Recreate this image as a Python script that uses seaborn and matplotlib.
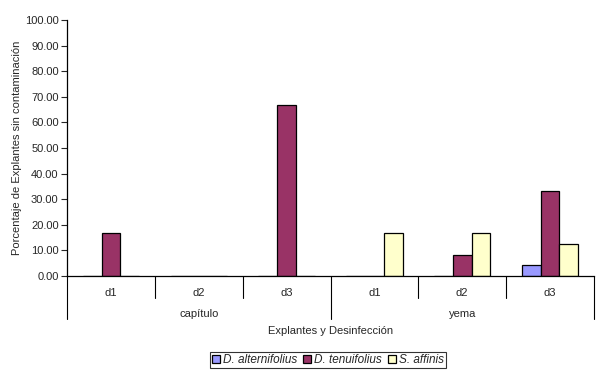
import seaborn as sns
import matplotlib.pyplot as plt
import matplotlib
import pandas as pd
import matplotlib.transforms as mtransforms

matplotlib.use('Agg')

explantes = ["capítulo", "yema"]
desinfecciones = ["d1", "d2", "d3"]
especies = ["D. alternifolius", "D. tenuifolius", "S. affinis"]

# valores por especie, en orden capítulo d1..d3, yema d1..d3
alternifolius = [0, 0, 0, 0, 0, 4.17]
tenuifolius = [16.67, 0, 66.67, 0, 8.33, 33.33]
affinis = [0, 0, 0, 16.67, 16.67, 12.5]

colores = ["#9999FF", "#993366", "#FFFFCC"]
FS = 8


def build_df() -> pd.DataFrame:
    rows = []
    series = [alternifolius, tenuifolius, affinis]
    for esp, vals in zip(especies, series):
        i = 0
        for exp in explantes:
            for d in desinfecciones:
                rows.append({"key": f"{exp} {d}", "explante": exp, "desinf": d,
                             "especie": esp, "valor": vals[i]})
                i += 1
    return pd.DataFrame(rows)


df = build_df()
keys = [f"{e} {d}" for e in explantes for d in desinfecciones]

sns.set_style("white")
plt.rcParams['font.family'] = ['Liberation Sans', 'DejaVu Sans']

fig = plt.figure(figsize=(6.05, 3.76), dpi=100)
ax = fig.add_axes([67 / 605, 1 - 276 / 376, 527 / 605, 256 / 376])

sns.barplot(data=df, x="key", y="valor", hue="especie", order=keys,
            hue_order=especies, palette=colores, edgecolor="black",
            linewidth=0.9, width=0.64, saturation=1, ax=ax, legend=True)

ax.set_ylim(0, 100)
ax.set_xlim(-0.5, len(keys) - 0.5)
ax.set_yticks(range(0, 101, 10))
ax.set_yticklabels([f"{v:.2f}" for v in range(0, 101, 10)], fontsize=FS)
ax.tick_params(axis="y", length=4, width=0.8, direction="out", left=True, pad=2)
ax.set_xticks([])
ax.set_xlabel("")
ax.set_ylabel("Porcentaje de Explantes sin contaminación", fontsize=FS, labelpad=2)

for s in ["top", "right"]:
    ax.spines[s].set_visible(False)
for s in ["left", "bottom"]:
    ax.spines[s].set_color("black")
    ax.spines[s].set_linewidth(0.9)

trans = mtransforms.blended_transform_factory(ax.transData, ax.transAxes)

# etiquetas de desinfección y separadores cortos
for i, k in enumerate(keys):
    d = k.split(" ")[1]
    ax.text(i, -0.068, d, transform=trans, ha="center", va="center", fontsize=FS)
for i in range(1, len(keys)):
    if i % len(desinfecciones) != 0:
        ax.plot([i - 0.5, i - 0.5], [0, -0.086], transform=trans, color="black",
                lw=0.8, clip_on=False)

# etiquetas de explante y separadores largos
n = len(desinfecciones)
for j, exp in enumerate(explantes):
    centro = j * n + (n - 1) / 2
    ax.text(centro, -0.147, exp, transform=trans, ha="center", va="center", fontsize=FS)
for j in range(len(explantes) + 1):
    x = j * n - 0.5
    ax.plot([x, x], [0, -0.168], transform=trans, color="black", lw=0.8, clip_on=False)

ax.text(0.5, -0.213, "Explantes y Desinfección", transform=ax.transAxes,
        ha="center", va="center", fontsize=FS)

handles, labels = ax.get_legend_handles_labels()
ax.legend_.remove()
leg = fig.legend(handles, labels, loc="center", bbox_to_anchor=(328 / 605, 1 - 360 / 376),
                 ncol=3, frameon=True, fancybox=False, edgecolor="black",
                 prop={"size": 8.5, "style": "italic"}, handlelength=0.7,
                 handleheight=0.7, handletextpad=0.25, columnspacing=0.5,
                 borderpad=0.15, borderaxespad=0)
leg.get_frame().set_linewidth(0.8)

fig.savefig("out.png", dpi=100)
